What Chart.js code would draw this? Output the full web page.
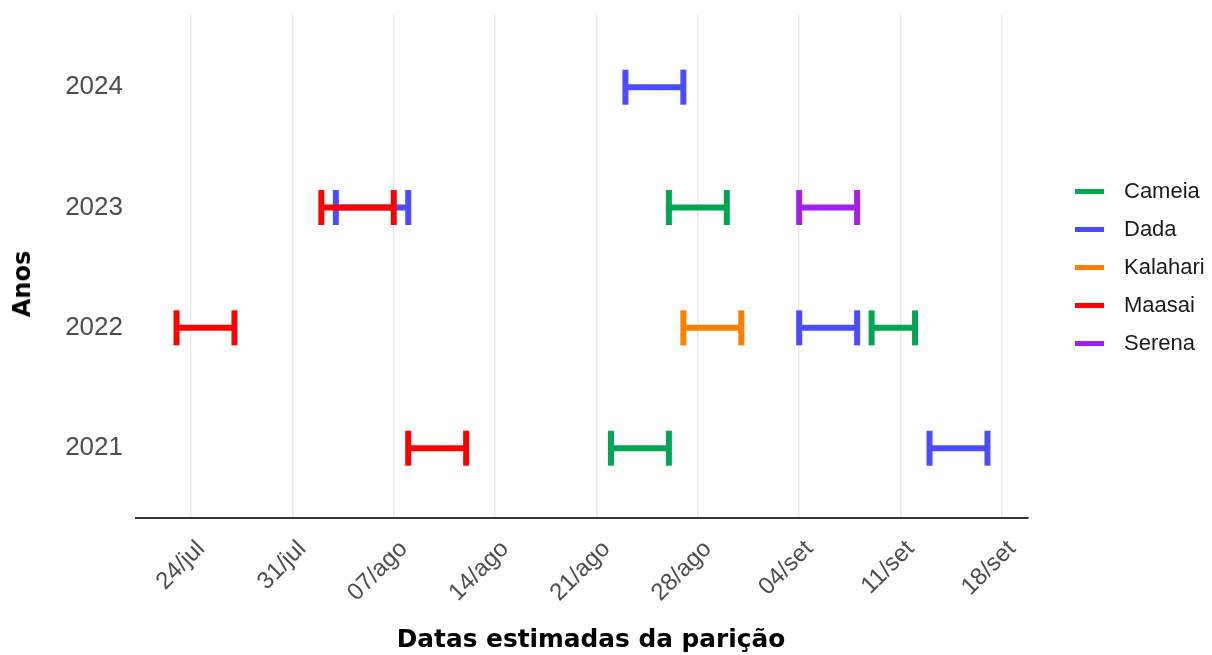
<!DOCTYPE html>
<html><head><meta charset="utf-8">
<script src="https://cdn.jsdelivr.net/npm/chart.js@4.4.0/dist/chart.umd.min.js"></script>
<style>
html,body{margin:0;padding:0;background:#fff;}
#wrap{position:relative;width:1212px;height:655px;}
#legend{position:absolute;left:1075px;top:172px;font-family:'Liberation Sans',Arial,sans-serif;font-size:22px;color:#1a1a1a;}
.row{height:38px;display:flex;align-items:center;}
.key{width:29px;height:5px;margin-right:20px;}
.ttl{position:absolute;font-family:'DejaVu Sans',sans-serif;font-weight:bold;font-size:24px;color:#000;white-space:nowrap;line-height:1;}
#ytitle{left:22px;top:284px;transform:translate(-50%,-50%) rotate(-90deg);}
#xtitle{left:591px;top:639px;transform:translate(-50%,-50%);font-size:24.8px;}
</style></head>
<body><div id="wrap"><canvas id="c" width="1212" height="655"></canvas><div id="legend"></div><div id="ytitle" class="ttl"></div><div id="xtitle" class="ttl"></div></div>
<script>
// ---- data ----
const years = [2021, 2022, 2023, 2024];
const seriesNames = ['Cameia', 'Dada', 'Kalahari', 'Maasai', 'Serena'];
const seriesColors = ['#00a651', '#4b4bff', '#ff7f00', '#ff0000', '#a020f0'];
const yTitle = 'Anos';
const xTitle = 'Datas estimadas da parição';

const cameiaYears = [2021, 2022, 2023];
const cameiaStart = ['22/08', '09/09', '26/08'];
const cameiaEnd   = ['26/08', '12/09', '30/08'];

const dadaYears = [2021, 2022, 2023, 2024];
const dadaStart = ['13/09', '04/09', '03/08', '23/08'];
const dadaEnd   = ['17/09', '08/09', '08/08', '27/08'];

const kalahariYears = [2022];
const kalahariStart = ['27/08'];
const kalahariEnd   = ['31/08'];

const maasaiYears = [2021, 2022, 2023];
const maasaiStart = ['08/08', '23/07', '02/08'];
const maasaiEnd   = ['12/08', '27/07', '07/08'];

const serenaYears = [2023];
const serenaStart = ['04/09'];
const serenaEnd   = ['08/09'];

const xTickLabels = ['24/jul', '31/jul', '07/ago', '14/ago', '21/ago', '28/ago', '04/set', '11/set', '18/set'];

// ---- helpers ----
const monthIdx = {jul: 7, ago: 8, set: 9};
function dayNum(dd, mm) { return Date.UTC(2021, mm - 1, dd) / 86400000; }
function parseDM(s) { const [d, m] = s.split('/'); return dayNum(+d, +m); }
function parseTick(s) { const [d, m] = s.split('/'); return dayNum(+d, monthIdx[m]); }
const tickVals = xTickLabels.map(parseTick);

const seriesData = [
  [cameiaYears, cameiaStart, cameiaEnd],
  [dadaYears, dadaStart, dadaEnd],
  [kalahariYears, kalahariStart, kalahariEnd],
  [maasaiYears, maasaiStart, maasaiEnd],
  [serenaYears, serenaStart, serenaEnd]
];

const datasets = [];
seriesData.forEach((sd, si) => {
  const [ys, st, en] = sd;
  ys.forEach((y, i) => {
    datasets.push({
      label: seriesNames[si],
      data: [{x: parseDM(st[i]), y: y}, {x: parseDM(en[i]), y: y}],
      borderColor: seriesColors[si],
      backgroundColor: seriesColors[si],
      borderWidth: 6,
      borderCapStyle: 'butt',
      pointStyle: 'line',
      pointRotation: 90,
      pointRadius: 17.5,
      pointBorderWidth: 6,
      pointBorderColor: seriesColors[si],
      pointHoverRadius: 17.5,
      order: si === 3 ? 0 : 1,
      tension: 0,
      clip: false
    });
  });
});

let allStarts = [], allEnds = [];
seriesData.forEach(sd => { sd[1].forEach(s => allStarts.push(parseDM(s))); sd[2].forEach(s => allEnds.push(parseDM(s))); });
const dMin = Math.min(...allStarts), dMax = Math.max(...allEnds);
const pad = (dMax - dMin) * 0.05;

const FONT = "'Liberation Sans', Arial, sans-serif";

new Chart(document.getElementById('c'), {
  type: 'line',
  data: { datasets },
  options: {
    responsive: false,
    animation: false,
    events: [],
    layout: { autoPadding: false, padding: { top: 15, right: 1212 - 1028, left: 0, bottom: 0 } },
    plugins: { legend: { display: false }, tooltip: { enabled: false } },
    scales: {
      x: {
        type: 'linear',
        min: dMin - pad,
        max: dMax + pad,
        afterBuildTicks: s => { s.ticks = tickVals.map(v => ({ value: v })); },
        afterFit: s => { s.height = 137; },
        ticks: {
          autoSkip: false,
          minRotation: 45, maxRotation: 45,
          callback: (v, i) => xTickLabels[i],
          color: '#4d4d4d',
          font: { family: FONT, size: 24 },
          padding: 17,
          labelOffset: 10
        },
        grid: { color: '#ebebeb', lineWidth: 1.5, drawTicks: false },
        border: { display: true, color: '#333333', width: 2 },
        title: { display: false }
      },
      y: {
        type: 'linear',
        min: 2020.42, max: 2024.6,
        afterBuildTicks: s => { s.ticks = years.map(v => ({ value: v })); },
        afterFit: s => { s.width = 136; s.paddingTop = 0; s.paddingBottom = 0; },
        ticks: {
          callback: v => String(v),
          color: '#4d4d4d',
          font: { family: FONT, size: 26 },
          padding: 13
        },
        grid: { display: false, drawTicks: false },
        border: { display: false },
        title: { display: false }
      }
    }
  }
});

document.getElementById('ytitle').textContent = yTitle;
document.getElementById('xtitle').textContent = xTitle;
// HTML legend
const lg = document.getElementById('legend');
seriesNames.forEach((n, i) => {
  const r = document.createElement('div');
  r.className = 'row';
  r.innerHTML = '<div class="key" style="background:' + seriesColors[i] + '"></div><span>' + n + '</span>';
  lg.appendChild(r);
});
</script>
</body></html>
